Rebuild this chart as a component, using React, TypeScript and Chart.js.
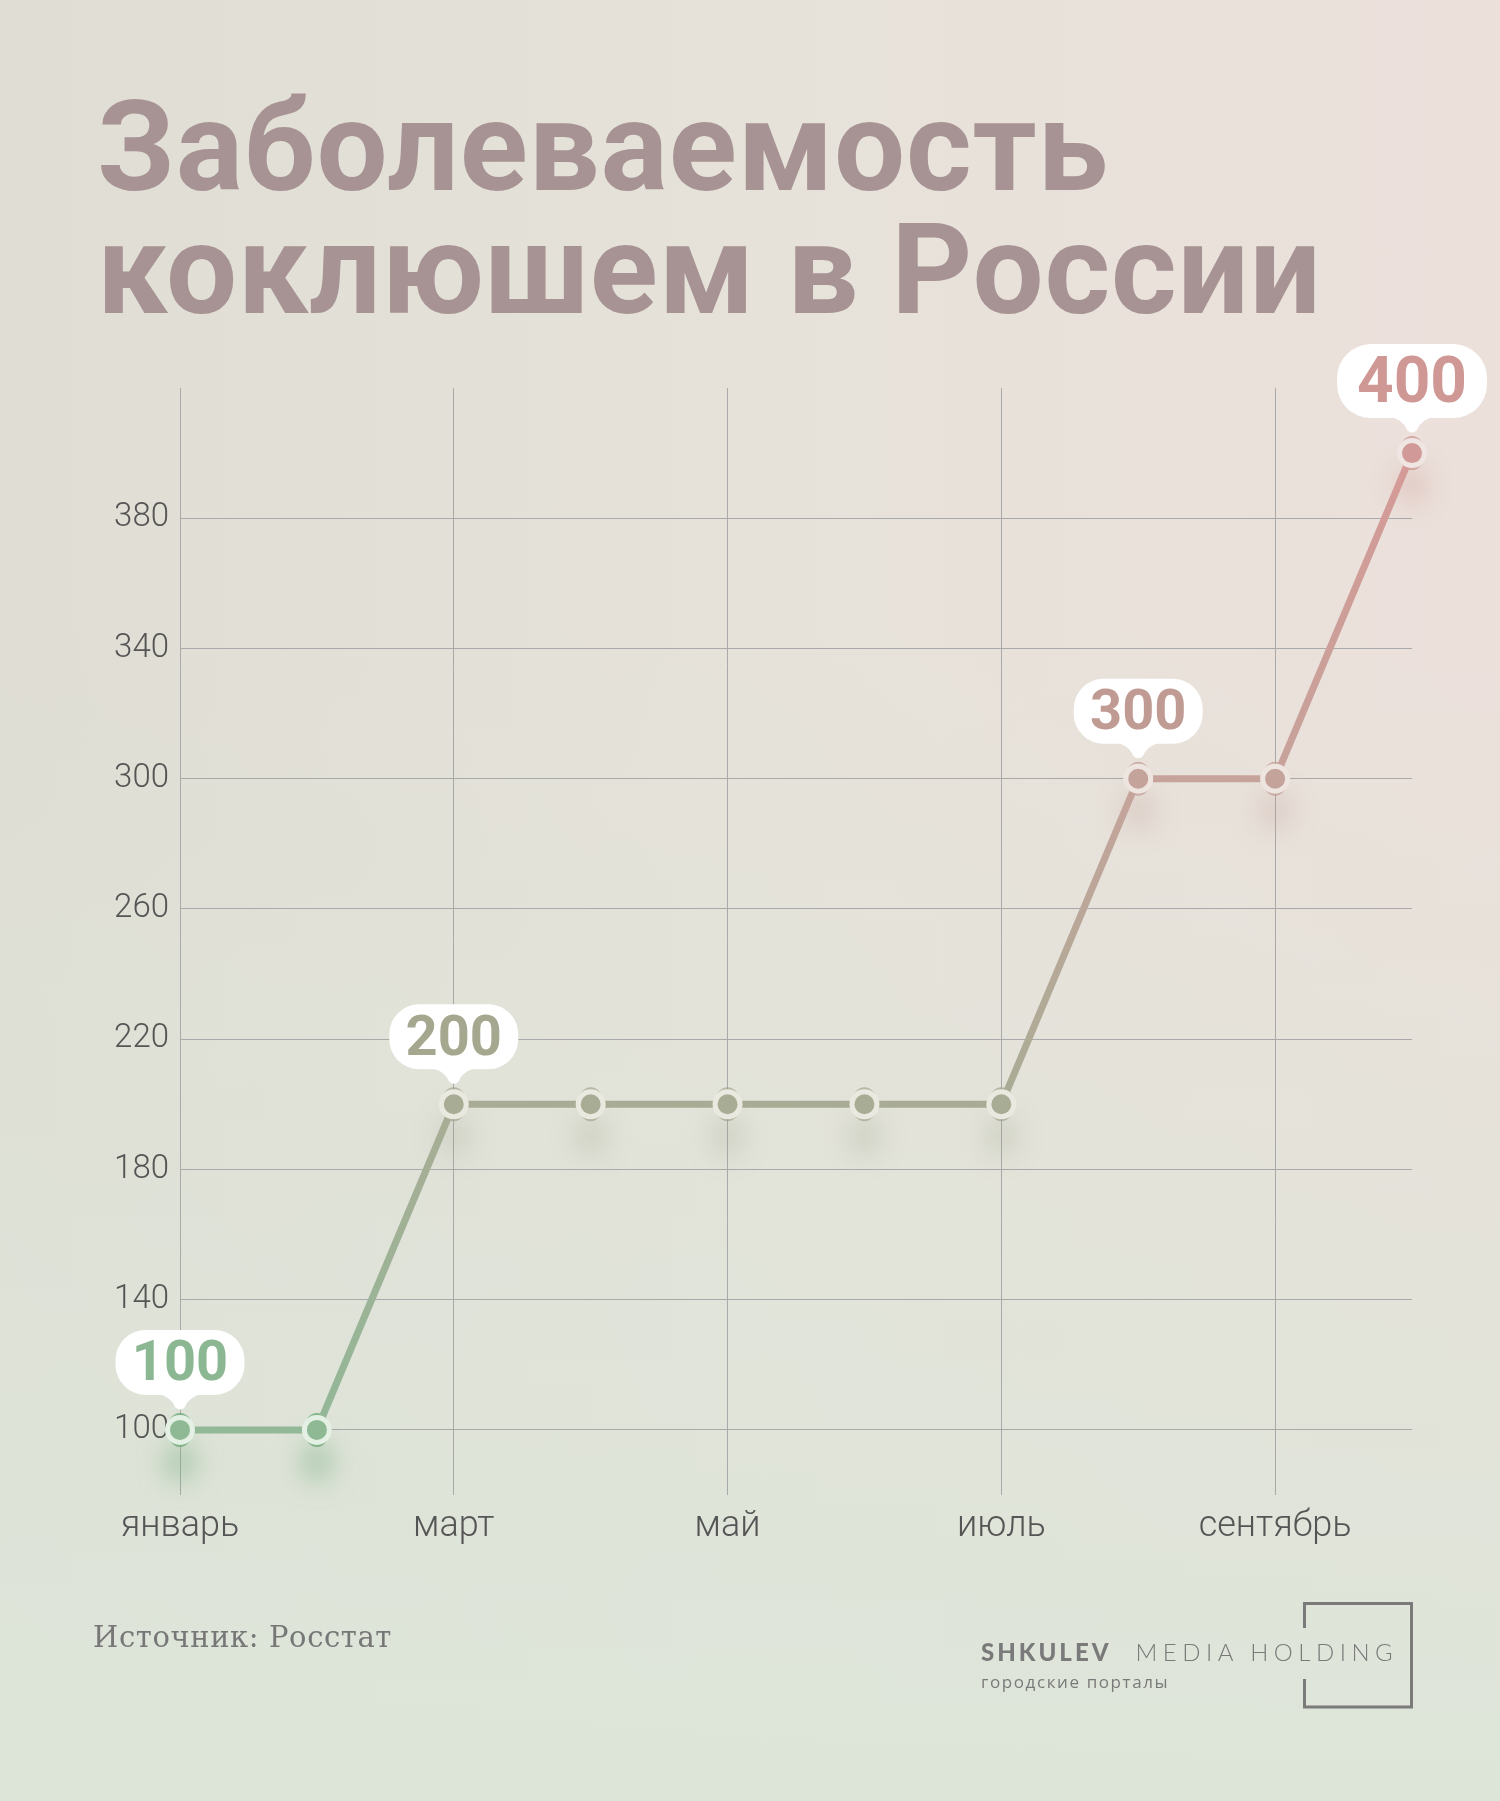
import React, { useEffect, useRef } from "react";
import { Chart, registerables } from "chart.js";

Chart.register(...registerables);

const months = ["январь", "февраль", "март", "апрель", "май", "июнь", "июль", "август", "сентябрь", "октябрь"];
const cases = [100, 100, 200, 200, 200, 200, 200, 300, 300, 400];
const yTicks = [100, 140, 180, 220, 260, 300, 340, 380];
const labeledIdx = [0, 2, 7, 9];
const titleLines = ["Заболеваемость", "коклюшем в России"];
const sourceText = "Источник: Росстат";
const logoBold = "SHKULEV";
const logoLight = "MEDIA HOLDING";
const logoSub = "городские порталы";

// style palette per level
const levelFill: Record<number, string> = { 100: "#8fb895", 200: "#a9ac95", 300: "#c4a39b", 400: "#d19a98" };
const levelText: Record<number, string> = { 100: "#8cb793", 200: "#a5a78f", 300: "#c09b93", 400: "#cf9895" };
const levelRing: Record<number, string> = { 100: "#e3f0e3", 200: "#e9e9e0", 300: "#eee4e0", 400: "#efe5e2" };
const levelGlow: Record<number, string> = {
  100: "rgba(110,170,120,0.8)",
  200: "rgba(150,155,130,0.6)",
  300: "rgba(185,145,135,0.6)",
  400: "rgba(200,140,135,0.65)",
};

const glowPlugin = {
  id: "glow",
  beforeDatasetsDraw(chart: any) {
    const meta = chart.getDatasetMeta(0);
    const ctx = chart.ctx;
    meta.data.forEach((pt: any, i: number) => {
      const v = cases[i];
      ctx.save();
      ctx.shadowColor = levelGlow[v];
      ctx.shadowBlur = 28;
      ctx.shadowOffsetY = 32;
      ctx.fillStyle = levelGlow[v];
      ctx.beginPath();
      ctx.ellipse(pt.x, pt.y, 13, 17, 0, 0, Math.PI * 2);
      ctx.fill();
      ctx.restore();
    });
  },
};

const bubblePlugin = {
  id: "bubbles",
  afterDatasetsDraw(chart: any) {
    const meta = chart.getDatasetMeta(0);
    const ctx = chart.ctx;
    labeledIdx.forEach((i) => {
      const pt = meta.data[i];
      if (!pt) return;
      const v = cases[i];
      const big = i === cases.length - 1;
      const w = big ? 150 : 129;
      const h = big ? 74 : 65;
      const x = pt.x;
      const tipY = pt.y - 20;
      const bottom = pt.y - 35;
      const top = bottom - h;
      ctx.save();
      ctx.fillStyle = "#ffffff";
      ctx.beginPath();
      ctx.roundRect(x - w / 2, top, w, h, big ? 34 : 30);
      ctx.fill();
      ctx.beginPath();
      ctx.moveTo(x - 32, bottom - 4);
      ctx.quadraticCurveTo(x - 9, bottom, x - 5, tipY - 3);
      ctx.quadraticCurveTo(x, tipY + 2, x + 5, tipY - 3);
      ctx.quadraticCurveTo(x + 9, bottom, x + 32, bottom - 4);
      ctx.closePath();
      ctx.fill();
      const size = big ? 64 : 56;
      ctx.font = `bold ${size}px Roboto`;
      ctx.fillStyle = levelText[v];
      ctx.textAlign = "center";
      ctx.textBaseline = "alphabetic";
      ctx.fillText(String(v), x, top + h / 2 + size * 0.711 / 2 - 2);
      ctx.restore();
    });
  },
};

export default function App() {
  const canvasRef = useRef<HTMLCanvasElement | null>(null);

  useEffect(() => {
    if (!canvasRef.current) return;
    const chart = new Chart(canvasRef.current, {
      type: "line",
      data: {
        labels: months,
        datasets: [
          {
            data: cases,
            clip: false as any,
            borderWidth: 7,
            tension: 0,
            borderColor: (c: any) => {
              const ch = c.chart;
              const y = ch.scales && ch.scales.y;
              if (!ch.chartArea || !y) return levelFill[200];
              const g = ch.ctx.createLinearGradient(0, y.getPixelForValue(100), 0, y.getPixelForValue(400));
              g.addColorStop(0, "#92b897");
              g.addColorStop(1 / 3, "#a9ac95");
              g.addColorStop(2 / 3, "#c6a39b");
              g.addColorStop(1, "#d59996");
              return g;
            },
            pointRadius: 12.5,
            pointBorderWidth: 5,
            pointBackgroundColor: (c: any) => levelFill[cases[c.dataIndex]] || levelFill[200],
            pointBorderColor: (c: any) => levelRing[cases[c.dataIndex]] || levelRing[200],
          },
        ],
      },
      options: {
        responsive: false,
        animation: false,
        events: [],
        layout: { padding: { top: 388, right: 88, left: 0, bottom: 0 } },
        plugins: { legend: { display: false }, tooltip: { enabled: false }, title: { display: false } },
        scales: {
          x: {
            type: "category",
            offset: false,
            afterFit(scale: any) {
              scale.height = 306;
            },
            grid: {
              drawTicks: false,
              lineWidth: 1,
              color: (c: any) => (c.index % 2 === 0 && c.index < months.length - 1 ? "#a9a9a9" : "rgba(0,0,0,0)"),
            },
            border: { display: false },
            ticks: {
              autoSkip: false,
              maxRotation: 0,
              padding: 10,
              color: "#555555",
              font: { family: "Roboto", weight: "300" as any, size: 36 },
              callback: (_v: any, i: number) => (i % 2 === 0 && i < months.length - 1 ? months[i] : ""),
            },
          },
          y: {
            type: "linear",
            min: 80,
            max: 420,
            afterFit(scale: any) {
              scale.width = 180;
            },
            afterBuildTicks(scale: any) {
              scale.ticks = yTicks.map((v) => ({ value: v }));
            },
            grid: { drawTicks: false, lineWidth: 1, color: "#a9a9a9" },
            border: { display: false },
            ticks: {
              padding: 11,
              color: "#555555",
              font: { family: "Roboto", weight: "300" as any, size: 33 },
            },
          },
        },
      },
      plugins: [glowPlugin, bubblePlugin],
    });
    const fonts = (document as any).fonts;
    if (fonts && fonts.load) {
      Promise.all([fonts.load("300 33px Roboto"), fonts.load("bold 56px Roboto")])
        .then(() => chart.update())
        .catch(() => {});
    }
    return () => chart.destroy();
  }, []);

  return (
    <div
      style={{
        position: "absolute",
        left: 0,
        top: 0,
        width: 1500,
        height: 1801,
        overflow: "hidden",
        background:
          "linear-gradient(180deg, rgba(221,229,217,0) 35%, rgba(221,229,217,1) 100%), linear-gradient(90deg, #dfddd4 0%, #e6e2da 50%, #ece0db 100%)",
      }}
    >
      <div
        style={{
          position: "absolute",
          left: 97,
          top: 86,
          fontFamily: "Roboto",
          fontWeight: 700,
          fontSize: 126,
          lineHeight: "123px",
          letterSpacing: 0.8,
          color: "#a79393",
          whiteSpace: "nowrap",
        }}
      >
        {titleLines.map((t, i) => (
          <div key={i}>{t}</div>
        ))}
      </div>
      <canvas ref={canvasRef} width={1500} height={1801} style={{ position: "absolute", left: 0, top: 0 }} />
      <div
        style={{
          position: "absolute",
          left: 93,
          top: 1623,
          fontFamily: "'DejaVu Serif'",
          fontSize: 29,
          lineHeight: "29px",
          letterSpacing: 0.6,
          color: "#777777",
          whiteSpace: "nowrap",
        }}
      >
        {sourceText}
      </div>
      <div
        style={{
          position: "absolute",
          left: 981,
          top: 1640,
          fontFamily: "Lato",
          fontSize: 24,
          lineHeight: "24px",
          color: "#7a7a7a",
          whiteSpace: "nowrap",
          letterSpacing: 3,
        }}
      >
        <span style={{ fontWeight: 900 }}>{logoBold}</span>
        <span style={{ fontWeight: 300, letterSpacing: 5.5, marginLeft: 24 }}>{logoLight}</span>
      </div>
      <div
        style={{
          position: "absolute",
          left: 981,
          top: 1672,
          fontFamily: "'Open Sans'",
          fontSize: 17,
          lineHeight: "20px",
          color: "#7a7a7a",
          whiteSpace: "nowrap",
          letterSpacing: 1.6,
        }}
      >
        {logoSub}
      </div>
      <svg
        width={120}
        height={120}
        style={{ position: "absolute", left: 1295, top: 1595 }}
        viewBox="0 0 120 120"
      >
        <path
          d="M 9.5 33 L 9.5 8.5 L 116.5 8.5 L 116.5 112 L 9.5 112 L 9.5 84"
          fill="none"
          stroke="#7a7a7a"
          strokeWidth={3}
        />
      </svg>
    </div>
  );
}
